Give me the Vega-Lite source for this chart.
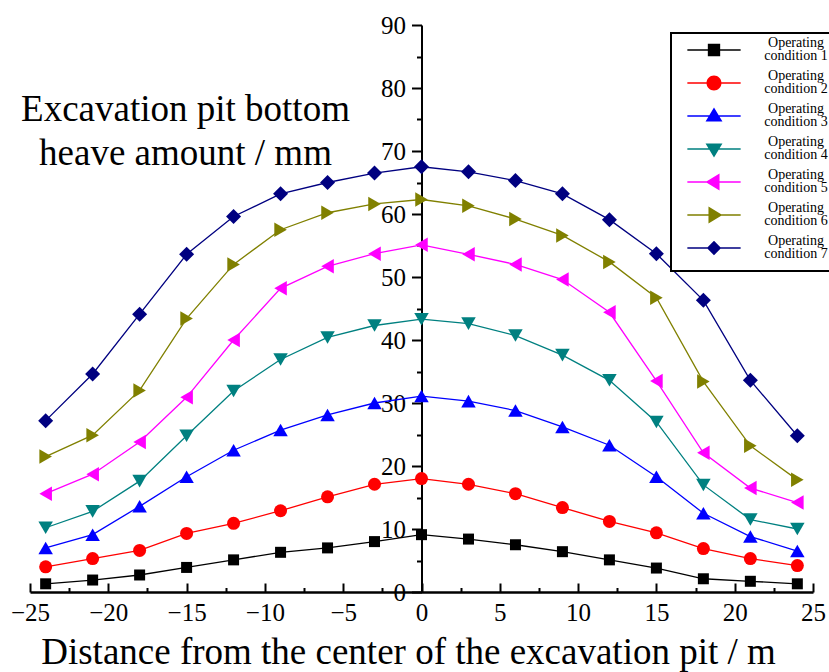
{
  "$schema": "https://vega.github.io/schema/vega-lite/v6.json",
  "width": 783,
  "height": 567,
  "autosize": {"type": "none"},
  "padding": {"left": 30, "top": 25, "right": 16, "bottom": 80},
  "background": "white",
  "config": {
    "view": {"stroke": null},
    "font": "Liberation Serif",
    "axis": {"grid": false, "domainColor": "black", "tickColor": "black", "labelColor": "black", "titleColor": "black", "labelFont": "Liberation Serif", "titleFont": "Liberation Serif"},
    "legend": {"strokeWidth": 2},
    "style": {"guide-label": {"lineHeight": 13}}
  },
  "data": {"values": [
    {"x": -24, "y": 1.3, "condition": "1"}, {"x": -21, "y": 1.9, "condition": "1"}, {"x": -18, "y": 2.7, "condition": "1"}, {"x": -15, "y": 3.9, "condition": "1"}, {"x": -12, "y": 5.1, "condition": "1"}, {"x": -9, "y": 6.3, "condition": "1"}, {"x": -6, "y": 7.0, "condition": "1"}, {"x": -3, "y": 8.0, "condition": "1"}, {"x": 0, "y": 9.1, "condition": "1"}, {"x": 3, "y": 8.4, "condition": "1"}, {"x": 6, "y": 7.5, "condition": "1"}, {"x": 9, "y": 6.4, "condition": "1"}, {"x": 12, "y": 5.1, "condition": "1"}, {"x": 15, "y": 3.8, "condition": "1"}, {"x": 18, "y": 2.1, "condition": "1"}, {"x": 21, "y": 1.7, "condition": "1"}, {"x": 24, "y": 1.3, "condition": "1"},
    {"x": -24, "y": 4.0, "condition": "2"}, {"x": -21, "y": 5.3, "condition": "2"}, {"x": -18, "y": 6.6, "condition": "2"}, {"x": -15, "y": 9.3, "condition": "2"}, {"x": -12, "y": 10.9, "condition": "2"}, {"x": -9, "y": 12.9, "condition": "2"}, {"x": -6, "y": 15.1, "condition": "2"}, {"x": -3, "y": 17.1, "condition": "2"}, {"x": 0, "y": 18.0, "condition": "2"}, {"x": 3, "y": 17.1, "condition": "2"}, {"x": 6, "y": 15.6, "condition": "2"}, {"x": 9, "y": 13.4, "condition": "2"}, {"x": 12, "y": 11.2, "condition": "2"}, {"x": 15, "y": 9.4, "condition": "2"}, {"x": 18, "y": 6.9, "condition": "2"}, {"x": 21, "y": 5.3, "condition": "2"}, {"x": 24, "y": 4.2, "condition": "2"},
    {"x": -24, "y": 7.0, "condition": "3"}, {"x": -21, "y": 9.1, "condition": "3"}, {"x": -18, "y": 13.6, "condition": "3"}, {"x": -15, "y": 18.3, "condition": "3"}, {"x": -12, "y": 22.5, "condition": "3"}, {"x": -9, "y": 25.7, "condition": "3"}, {"x": -6, "y": 28.1, "condition": "3"}, {"x": -3, "y": 30.0, "condition": "3"}, {"x": 0, "y": 31.1, "condition": "3"}, {"x": 3, "y": 30.3, "condition": "3"}, {"x": 6, "y": 28.8, "condition": "3"}, {"x": 9, "y": 26.2, "condition": "3"}, {"x": 12, "y": 23.3, "condition": "3"}, {"x": 15, "y": 18.3, "condition": "3"}, {"x": 18, "y": 12.5, "condition": "3"}, {"x": 21, "y": 8.8, "condition": "3"}, {"x": 24, "y": 6.5, "condition": "3"},
    {"x": -24, "y": 10.2, "condition": "4"}, {"x": -21, "y": 12.8, "condition": "4"}, {"x": -18, "y": 17.6, "condition": "4"}, {"x": -15, "y": 24.8, "condition": "4"}, {"x": -12, "y": 31.9, "condition": "4"}, {"x": -9, "y": 36.9, "condition": "4"}, {"x": -6, "y": 40.4, "condition": "4"}, {"x": -3, "y": 42.3, "condition": "4"}, {"x": 0, "y": 43.3, "condition": "4"}, {"x": 3, "y": 42.6, "condition": "4"}, {"x": 6, "y": 40.7, "condition": "4"}, {"x": 9, "y": 37.6, "condition": "4"}, {"x": 12, "y": 33.6, "condition": "4"}, {"x": 15, "y": 27.0, "condition": "4"}, {"x": 18, "y": 17.0, "condition": "4"}, {"x": 21, "y": 11.5, "condition": "4"}, {"x": 24, "y": 10.0, "condition": "4"},
    {"x": -24, "y": 15.6, "condition": "5"}, {"x": -21, "y": 18.7, "condition": "5"}, {"x": -18, "y": 23.8, "condition": "5"}, {"x": -15, "y": 30.9, "condition": "5"}, {"x": -12, "y": 40.0, "condition": "5"}, {"x": -9, "y": 48.2, "condition": "5"}, {"x": -6, "y": 51.7, "condition": "5"}, {"x": -3, "y": 53.7, "condition": "5"}, {"x": 0, "y": 55.1, "condition": "5"}, {"x": 3, "y": 53.6, "condition": "5"}, {"x": 6, "y": 52.0, "condition": "5"}, {"x": 9, "y": 49.6, "condition": "5"}, {"x": 12, "y": 44.4, "condition": "5"}, {"x": 15, "y": 33.5, "condition": "5"}, {"x": 18, "y": 22.1, "condition": "5"}, {"x": 21, "y": 16.5, "condition": "5"}, {"x": 24, "y": 14.2, "condition": "5"},
    {"x": -24, "y": 21.5, "condition": "6"}, {"x": -21, "y": 24.9, "condition": "6"}, {"x": -18, "y": 32.0, "condition": "6"}, {"x": -15, "y": 43.4, "condition": "6"}, {"x": -12, "y": 52.0, "condition": "6"}, {"x": -9, "y": 57.5, "condition": "6"}, {"x": -6, "y": 60.2, "condition": "6"}, {"x": -3, "y": 61.6, "condition": "6"}, {"x": 0, "y": 62.3, "condition": "6"}, {"x": 3, "y": 61.3, "condition": "6"}, {"x": 6, "y": 59.2, "condition": "6"}, {"x": 9, "y": 56.6, "condition": "6"}, {"x": 12, "y": 52.4, "condition": "6"}, {"x": 15, "y": 46.7, "condition": "6"}, {"x": 18, "y": 33.4, "condition": "6"}, {"x": 21, "y": 23.2, "condition": "6"}, {"x": 24, "y": 17.8, "condition": "6"},
    {"x": -24, "y": 27.2, "condition": "7"}, {"x": -21, "y": 34.6, "condition": "7"}, {"x": -18, "y": 44.1, "condition": "7"}, {"x": -15, "y": 53.6, "condition": "7"}, {"x": -12, "y": 59.6, "condition": "7"}, {"x": -9, "y": 63.2, "condition": "7"}, {"x": -6, "y": 65.0, "condition": "7"}, {"x": -3, "y": 66.5, "condition": "7"}, {"x": 0, "y": 67.5, "condition": "7"}, {"x": 3, "y": 66.7, "condition": "7"}, {"x": 6, "y": 65.3, "condition": "7"}, {"x": 9, "y": 63.2, "condition": "7"}, {"x": 12, "y": 59.1, "condition": "7"}, {"x": 15, "y": 53.7, "condition": "7"}, {"x": 18, "y": 46.3, "condition": "7"}, {"x": 21, "y": 33.6, "condition": "7"}, {"x": 24, "y": 24.8, "condition": "7"}
  ]},
  "resolve": {
    "axis": {"x": "independent", "y": "independent"},
    "scale": {"shape": "independent", "size": "independent", "color": "independent"}
  },
  "layer": [
    {
      "mark": {"type": "line", "strokeWidth": 1.3},
      "encoding": {
        "x": {
          "field": "x", "type": "quantitative",
          "scale": {"domain": [-25, 25], "nice": false, "zero": false},
          "axis": {
            "orient": "bottom",
            "values": [-25, -20, -15, -10, -5, 0, 5, 10, 15, 20, 25],
            "tickSize": -9, "tickWidth": 2, "domainWidth": 2.5,
            "labelFontSize": 25, "labelPadding": 17, "labelFlush": false, "labelOverlap": false,
            "title": "Distance from the center of the excavation pit / m",
            "titleFontSize": 37, "titleFontWeight": "normal",
            "titleAlign": "center", "titleBaseline": "alphabetic",
            "titleX": 378, "titleY": 71
          }
        },
        "y": {
          "field": "y", "type": "quantitative",
          "scale": {"domain": [0, 90], "nice": false},
          "axis": {
            "orient": "left", "offset": -391.5,
            "values": [0, 10, 20, 30, 40, 50, 60, 70, 80, 90],
            "tickSize": 10, "tickWidth": 2, "domainWidth": 2,
            "labelFontSize": 25, "labelPadding": 6, "labelOverlap": false,
            "title": ["Excavation pit bottom", "heave amount / mm"],
            "titleFontSize": 37, "titleFontWeight": "normal", "titleAngle": 0,
            "titleAlign": "center", "titleBaseline": "alphabetic", "titleLineHeight": 44,
            "titleX": -236.5, "titleY": 95.5
          }
        },
        "color": {
          "field": "condition", "type": "nominal",
          "scale": {"domain": ["1", "2", "3", "4", "5", "6", "7"], "range": ["#000000", "#FF0000", "#0000FF", "#008080", "#FF00FF", "#808000", "#000080"]},
          "legend": null
        },
        "detail": {"field": "condition"}
      }
    },
    {
      "mark": {"type": "point", "filled": true, "opacity": 1},
      "encoding": {
        "x": {
          "field": "x", "type": "quantitative",
          "axis": {
            "orient": "bottom",
            "values": [-22.5, -17.5, -12.5, -7.5, -2.5, 2.5, 7.5, 12.5, 17.5, 22.5],
            "tickSize": -4.5, "tickWidth": 2, "domain": false, "labels": false, "title": null
          }
        },
        "y": {
          "field": "y", "type": "quantitative",
          "axis": {
            "orient": "left", "offset": -391.5,
            "values": [5, 15, 25, 35, 45, 55, 65, 75, 85],
            "tickSize": 5, "tickWidth": 2, "domain": false, "labels": false, "title": null
          }
        },
        "color": {
          "field": "condition", "type": "nominal",
          "scale": {"domain": ["1", "2", "3", "4", "5", "6", "7"], "range": ["#000000", "#FF0000", "#0000FF", "#008080", "#FF00FF", "#808000", "#000080"]},
          "legend": null
        },
        "shape": {
          "field": "condition", "type": "nominal",
          "scale": {"domain": ["1", "2", "3", "4", "5", "6", "7"], "range": ["square", "circle", "triangle-up", "triangle-down", "triangle-left", "triangle-right", "diamond"]},
          "legend": null
        },
        "size": {
          "field": "condition", "type": "nominal",
          "scale": {"type": "ordinal", "domain": ["1", "2", "3", "4", "5", "6", "7"], "range": [121, 169, 210, 210, 210, 210, 225]},
          "legend": null
        }
      }
    },
    {
      "mark": {"type": "point", "filled": true, "opacity": 0},
      "encoding": {
        "x": {"field": "x", "type": "quantitative", "axis": null},
        "y": {"field": "y", "type": "quantitative", "axis": null},
        "color": {
          "field": "condition", "type": "nominal",
          "scale": {"domain": ["1", "2", "3", "4", "5", "6", "7"], "range": ["#000000", "#FF0000", "#0000FF", "#008080", "#FF00FF", "#808000", "#000080"]},
          "legend": {
            "orient": "none", "legendX": 641, "legendY": 8,
            "title": null,
            "padding": 10, "rowPadding": 6,
            "symbolSize": 169, "symbolOffset": 26, "symbolStrokeWidth": 0, "symbolOpacity": 1,
            "labelExpr": "['Operating', 'condition ' + datum.label]",
            "labelFont": "Liberation Serif", "labelFontSize": 14,
            "labelColor": "black", "labelAlign": "center", "labelBaseline": "bottom", "labelOffset": 75, "labelLimit": 300,
            "strokeColor": "black", "fillColor": "white"
          }
        },
        "shape": {
          "field": "condition", "type": "nominal",
          "scale": {
            "domain": ["1", "2", "3", "4", "5", "6", "7"],
            "range": [
              "M-4.1,-0.1H4.1V0.1H-4.1Z M-0.95,-0.95H0.95V0.95H-0.95Z",
              "M-4.1,-0.1H4.1V0.1H-4.1Z M1.15,0A1.15,1.15,0,1,1,-1.15,0A1.15,1.15,0,1,1,1.15,0Z",
              "M-4.1,-0.1H4.1V0.1H-4.1Z M0,-1.3L1.3,0.85H-1.3Z",
              "M-4.1,-0.1H4.1V0.1H-4.1Z M0,1.3L-1.3,-0.85H1.3Z",
              "M-4.1,-0.1H4.1V0.1H-4.1Z M-1.3,0L0.85,-1.3V1.3Z",
              "M-4.1,-0.1H4.1V0.1H-4.1Z M1.3,0L-0.85,1.3V-1.3Z",
              "M-4.1,-0.1H4.1V0.1H-4.1Z M0,-1.1L1.1,0L0,1.1L-1.1,0Z"
            ]
          },
          "legend": {
            "orient": "none", "legendX": 641, "legendY": 8,
            "title": null,
            "padding": 10, "rowPadding": 6,
            "symbolSize": 169, "symbolOffset": 26, "symbolStrokeWidth": 0, "symbolOpacity": 1,
            "labelExpr": "['Operating', 'condition ' + datum.label]",
            "labelFont": "Liberation Serif", "labelFontSize": 14,
            "labelColor": "black", "labelAlign": "center", "labelBaseline": "bottom", "labelOffset": 75, "labelLimit": 300,
            "strokeColor": "black", "fillColor": "white"
          }
        }
      }
    }
  ]
}
